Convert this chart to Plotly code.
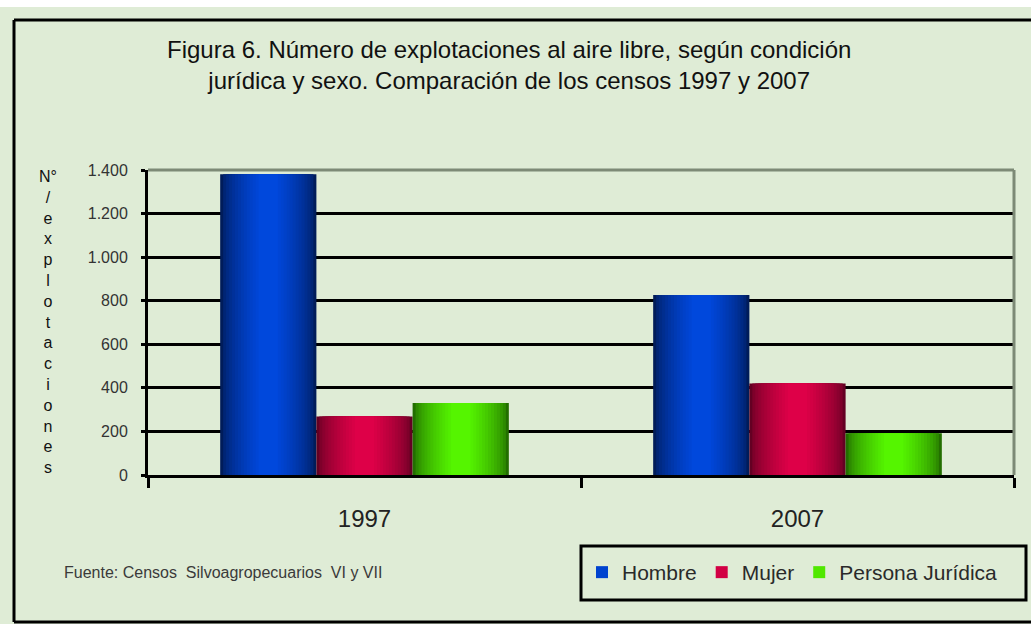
import plotly.graph_objects as go

# ---- data ----
years = ["1997", "2007"]
series_names = ["Hombre", "Mujer", "Persona Jurídica"]
hombre = [1380, 826]
mujer = [268, 420]
persona_juridica = [330, 192]
y_tick_vals = [0, 200, 400, 600, 800, 1000, 1200, 1400]
y_tick_text = ["0", "200", "400", "600", "800", "1.000", "1.200", "1.400"]
title_text = ("Figura 6. Número de explotaciones al aire libre, según condición<br>"
              "jurídica y sexo. Comparación de los censos 1997 y 2007")
y_title_chars = ["N°", "/", "e", "x", "p", "l", "o", "t", "a", "c", "i", "o", "n", "e", "s"]
source_text = "Fuente: Censos  Silvoagropecuarios  VI y VII"

series_values = [hombre, mujer, persona_juridica]
# (edge colour, centre colour)
series_colors = [((0, 28, 90), (0, 72, 220)),
                 ((100, 0, 35), (222, 0, 72)),
                 ((35, 110, 0), (85, 245, 0))]

W, H = 1031, 624
ML, MR, MT, MB = 148, 17, 170, 149
PW, PH = W - ML - MR, H - MT - MB


def px_x(x):
    return (x - ML) / PW


def px_y(y):
    return (H - MB - y) / PH


BG = "#dfecd6"
FONT = "Liberation Sans, Arial, sans-serif"

fig = go.Figure()

bar_w = 2 / 9
n_layers = 14
for i, (name, vals, (edge, centre)) in enumerate(zip(series_names, series_values, series_colors)):
    c = (i - 1) * bar_w
    for k in range(n_layers):
        t = k / (n_layers - 1)
        frac = 1 - 0.8 * t
        g = t ** 0.6
        col = tuple(int(edge[j] + (centre[j] - edge[j]) * g) for j in range(3))
        w = bar_w * frac
        legend_layer = (k == n_layers - 3)
        fig.add_trace(go.Bar(
            x=years, y=vals, name=name,
            width=w, offset=c - w / 2,
            marker=dict(color="rgb(%d,%d,%d)" % col, line=dict(width=0)),
            showlegend=legend_layer, legendrank=i + 1,
            hoverinfo="skip" if not legend_layer else None,
        ))

fig.update_layout(
    width=W, height=H,
    margin=dict(l=ML, r=MR, t=MT, b=MB),
    paper_bgcolor=BG, plot_bgcolor=BG,
    barmode="overlay",
    font=dict(family=FONT, color="#222"),
    showlegend=True,
    legend=dict(
        orientation="h", x=px_x(582), y=px_y(572.5), xanchor="left", yanchor="middle",
        bgcolor="rgba(0,0,0,0)", borderwidth=0,
        font=dict(size=21, color="#2a2a2a"), traceorder="normal",
        itemsizing="constant",
    ),
    xaxis=dict(
        type="category", range=[-0.5, 1.5],
        showline=True, linecolor="black", linewidth=3,
        ticks="outside", tickson="boundaries", ticklen=10, tickwidth=3, tickcolor="black",
        tickfont=dict(size=24, color="#222"), ticklabelstandoff=20,
        showgrid=False,
    ),
    yaxis=dict(
        range=[0, 1400], tickvals=y_tick_vals, ticktext=y_tick_text,
        showline=True, linecolor="black", linewidth=3,
        ticks="outside", ticklen=4, tickwidth=3, tickcolor="black",
        tickfont=dict(size=16, color="#333"), ticklabelstandoff=10,
        showgrid=True, gridcolor="black", gridwidth=3, zeroline=False,
    ),
)

shapes = [
    # white strip at very top
    dict(type="rect", xref="paper", yref="paper", x0=px_x(-5), x1=px_x(W + 5),
         y0=px_y(7), y1=px_y(-5), fillcolor="white", line=dict(width=0), layer="below"),
    # outer frame
    dict(type="line", xref="paper", yref="paper", x0=px_x(14), x1=px_x(W + 5),
         y0=px_y(20), y1=px_y(20), line=dict(color="black", width=3)),
    dict(type="line", xref="paper", yref="paper", x0=px_x(14), x1=px_x(14),
         y0=px_y(20), y1=px_y(622), line=dict(color="black", width=3)),
    dict(type="line", xref="paper", yref="paper", x0=px_x(14), x1=px_x(W + 5),
         y0=px_y(622), y1=px_y(622), line=dict(color="black", width=3)),
    # plot area top and right border (grey)
    dict(type="line", xref="paper", yref="paper", x0=0, x1=1, y0=1, y1=1,
         line=dict(color="#7d8a76", width=3)),
    dict(type="line", xref="paper", yref="paper", x0=1, x1=1, y0=0, y1=1,
         line=dict(color="#7d8a76", width=3)),
    # legend box
    dict(type="rect", xref="paper", yref="paper", x0=px_x(581), x1=px_x(1026),
         y0=px_y(600), y1=px_y(546), line=dict(color="black", width=3),
         fillcolor="rgba(0,0,0,0)"),
]
fig.update_layout(shapes=shapes)

annotations = [
    dict(text=title_text, xref="paper", yref="paper", x=px_x(509), y=px_y(65),
         xanchor="center", yanchor="middle", showarrow=False,
         font=dict(size=24, color="#111", family=FONT)),
    dict(text="<br>".join(y_title_chars), xref="paper", yref="paper",
         x=px_x(48), y=px_y(322), xanchor="center", yanchor="middle", showarrow=False,
         font=dict(size=16, color="#111")),
    dict(text=source_text, xref="paper", yref="paper", x=px_x(62), y=px_y(572),
         xanchor="left", yanchor="middle", showarrow=False,
         font=dict(size=16, color="#3a3a3a")),
]
fig.update_layout(annotations=annotations)

fig.write_html("out.html", config={"displayModeBar": False},
               post_script="document.body.style.margin='0';")
